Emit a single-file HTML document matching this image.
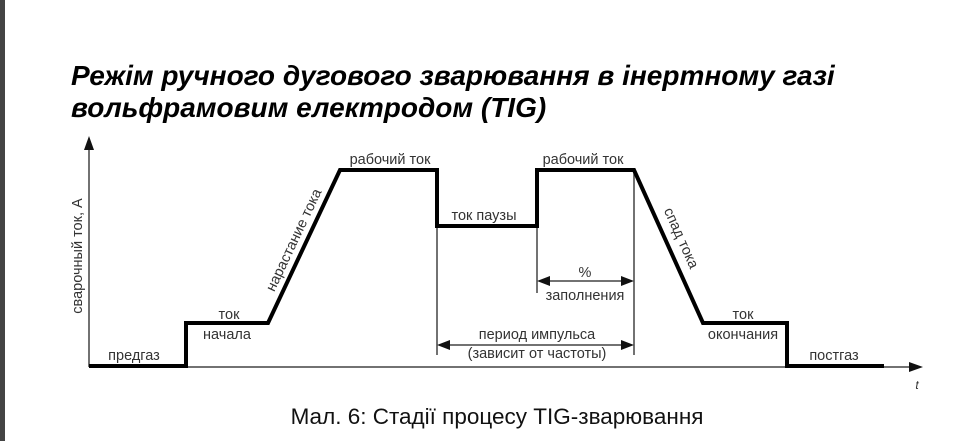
<!DOCTYPE html>
<html><head><meta charset="utf-8"><style>
body{margin:0;width:978px;height:441px;background:#fff;overflow:hidden;position:relative;font-family:"Liberation Sans",sans-serif}
.bar{position:absolute;left:0;top:0;width:5px;height:441px;background:#444}
.t{position:absolute;left:71px;font-weight:bold;font-style:italic;font-size:28px;line-height:32px;color:#000;white-space:nowrap}
.cap{position:absolute;left:0;width:994px;text-align:center;top:404px;font-size:22.5px;color:#111}
</style></head><body>
<div class="bar"></div>
<div class="t" style="top:60px">Режім ручного дугового зварювання в інертному газі</div>
<div class="t" style="top:92px">вольфрамовим електродом (TIG)</div>
<svg width="978" height="441" style="position:absolute;left:0;top:0">
<g stroke="#444" stroke-width="1.5" fill="none">
<line x1="89" y1="367" x2="89" y2="145"/>
<line x1="89" y1="367" x2="912" y2="367"/>
<line x1="437" y1="226" x2="437" y2="355"/>
<line x1="537" y1="226" x2="537" y2="293"/>
<line x1="634" y1="170" x2="634" y2="355"/>
<line x1="545" y1="281" x2="626" y2="281"/>
<line x1="445" y1="345" x2="626" y2="345"/>
</g>
<g fill="#111">
<polygon points="89,136 84,150 94,150"/>
<polygon points="923,367 909,362 909,372"/>
<polygon points="537,281 550,276 550,286"/>
<polygon points="634,281 621,276 621,286"/>
<polygon points="437,345 450,340 450,350"/>
<polygon points="634,345 621,340 621,350"/>
</g>
<polyline fill="none" stroke="#000" stroke-width="4" points="89,366 186,366 186,323 268,323 340,170 437,170 437,226 537,226 537,170 634,170 703,323 787,323 787,366 884,366"/>
<g font-family="Liberation Sans,sans-serif" font-size="14.5" fill="#333" text-anchor="middle">
<text x="134" y="360">предгаз</text>
<text x="229" y="319">ток</text>
<text x="227" y="339">начала</text>
<text x="390" y="164">рабочий ток</text>
<text x="484" y="220">ток паузы</text>
<text x="583" y="164">рабочий ток</text>
<text x="585" y="277">%</text>
<text x="585" y="300">заполнения</text>
<text x="537" y="339">период импульса</text>
<text x="537" y="358">(зависит от частоты)</text>
<text x="743" y="319">ток</text>
<text x="743" y="339">окончания</text>
<text x="834" y="360">постгаз</text>
<text x="917" y="389" font-style="italic" font-size="12">t</text>
<text transform="translate(298,242) rotate(-64.7)">нарастание тока</text>
<text transform="translate(677,240) rotate(65.7)">спад тока</text>
<text transform="translate(82,256) rotate(-90)">сварочный ток, А</text>
</g>
</svg>
<div class="cap">Мал. 6: Стадії процесу TIG-зварювання</div>
</body></html>
